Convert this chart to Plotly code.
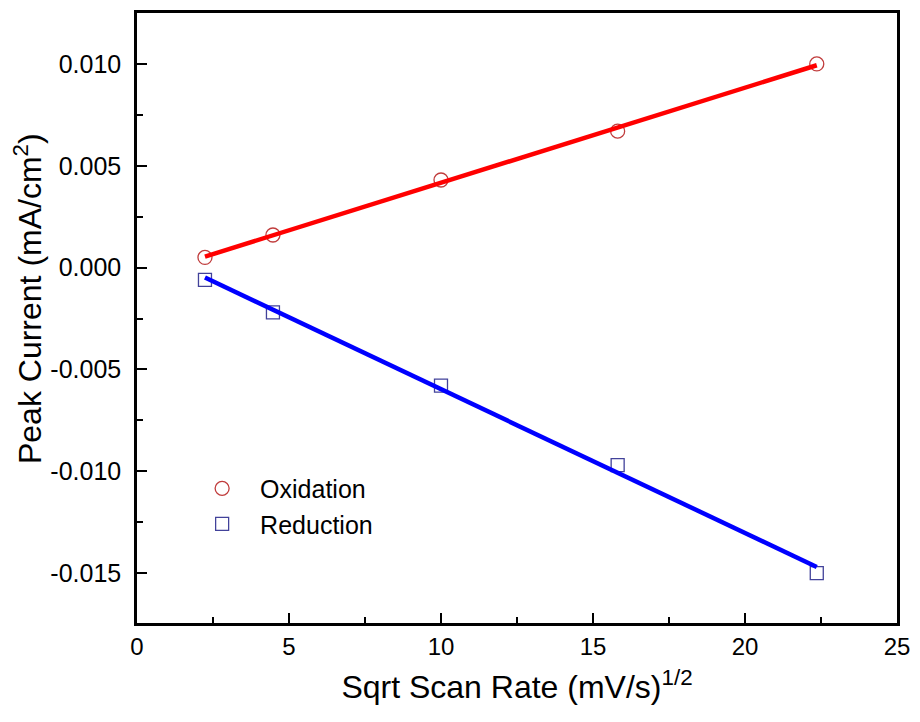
import numpy as np
import plotly.graph_objects as go

scan_rate_sqrt = [2.236, 4.472, 10.0, 15.811, 22.361]
oxidation = [0.0005, 0.0016, 0.0043, 0.0067, 0.0100]
reduction = [-0.0006, -0.0022, -0.0058, -0.0097, -0.0150]

y_tick_vals = [0.010, 0.005, 0.000, -0.005, -0.010, -0.015]
y_tick_text = ["0.010", "0.005", "0.000", "-0.005", "-0.010", "-0.015"]
x_tick_vals = [0, 5, 10, 15, 20, 25]
x_tick_text = ["0", "5", "10", "15", "20", "25"]

x = np.array(scan_rate_sqrt)
fit_ox = np.polyfit(x, oxidation, 1)
fit_red = np.polyfit(x, reduction, 1)
xl = np.array([x.min(), x.max()])

FONT = "Liberation Sans, Arial, sans-serif"

fig = go.Figure()
fig.add_trace(go.Scatter(x=scan_rate_sqrt, y=oxidation, mode="markers", name="Oxidation",
                         marker=dict(symbol="circle-open", size=14, color="#c03c3c",
                                     line=dict(width=1.3, color="#c03c3c"))))
fig.add_trace(go.Scatter(x=scan_rate_sqrt, y=reduction, mode="markers", name="Reduction",
                         marker=dict(symbol="square-open", size=13, color="#42429a",
                                     line=dict(width=1.3, color="#42429a"))))
fig.add_trace(go.Scatter(x=xl, y=np.polyval(fit_ox, xl), mode="lines",
                         line=dict(color="#ff0000", width=4.5), showlegend=False))
fig.add_trace(go.Scatter(x=xl, y=np.polyval(fit_red, xl), mode="lines",
                         line=dict(color="#0000ff", width=4.5), showlegend=False))

fig.update_layout(
    width=920, height=722,
    margin=dict(l=137, r=20, t=10, b=99),
    plot_bgcolor="white", paper_bgcolor="white",
    font=dict(family=FONT, color="black"),
    legend=dict(x=0.062, y=0.258, xanchor="left", yanchor="top",
                font=dict(size=25, family=FONT),
                bgcolor="rgba(0,0,0,0)", itemwidth=66, tracegroupgap=0),
    annotations=[dict(text="Peak Current (mA/cm<sup>2</sup>)", textangle=-90,
                      xref="paper", yref="paper", x=(27 - 137) / 763, y=(623 - 297) / 613,
                      xanchor="center", yanchor="middle", showarrow=False,
                      font=dict(size=32, family=FONT, color="black"))],
)
fig.update_xaxes(
    range=[0, 25], tickvals=x_tick_vals, ticktext=x_tick_text,
    showline=True, linecolor="black", linewidth=2.5, mirror=True,
    ticks="inside", ticklen=10, tickwidth=2, tickcolor="black",
    minor=dict(ticks="inside", ticklen=6, tickwidth=2, tickcolor="black", dtick=2.5, showgrid=False),
    showgrid=False, zeroline=False,
    tickfont=dict(size=24, family=FONT),
    title=dict(text="Sqrt Scan Rate (mV/s)<sup>1/2</sup>",
               font=dict(size=32, family=FONT), standoff=18),
)
fig.update_yaxes(
    range=[-0.01745, 0.0125], tickvals=y_tick_vals, ticktext=y_tick_text,
    showline=True, linecolor="black", linewidth=2.5, mirror=True,
    ticks="inside", ticklen=10, tickwidth=2, tickcolor="black",
    minor=dict(ticks="inside", ticklen=6, tickwidth=2, tickcolor="black", dtick=0.0025, showgrid=False),
    showgrid=False, zeroline=False,
    tickfont=dict(size=25, family=FONT), ticklabelstandoff=8,
)
fig.write_html("out.html")
